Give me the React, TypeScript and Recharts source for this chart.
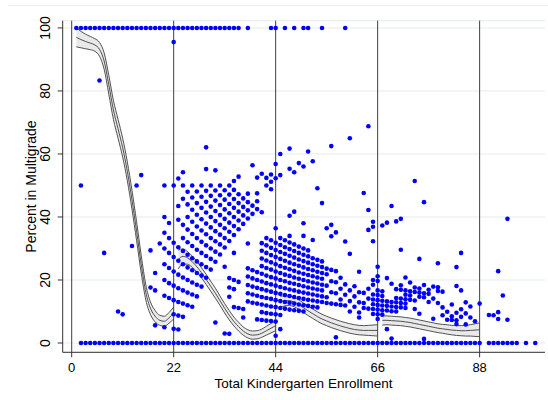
import React from 'react';
import { ComposedChart, Scatter, Line, Area, XAxis, YAxis, CartesianGrid, ReferenceLine } from 'recharts';

const xTicks = [0, 22, 44, 66, 88];
const yTicks = [0, 20, 40, 60, 80, 100];
const cutoffs = [0, 22, 44, 66, 88];

// enrollments with 0% multigrade
const zeroRowX = [2,3,4,5,6,7,8,9,10,11,12,13,14,15,16,17,18,19,20,21,22,23,24,25,26,27,28,29,30,31,32,33,34,35,36,37,38,39,40,41,42,43,44,45,46,47,48,49,50,51,52,53,54,55,56,57,58,59,60,61,62,63,64,65,66,67,68,69,70,71,72,73,74,75,76,77,78,79,80,81,82,83,84,85,86,87,88,90,91,92,93,94,95,96,98,100];
// enrollments with 100% multigrade
const fullRowX = [1,2,3,4,5,6,7,8,9,10,11,12,13,14,15,16,17,18,19,20,21,22,23,24,25,26,27,28,29,30,31,32,33,34,35,36,38,43,44,46,48,50,51,54,59];

const seg1Points: [number, number[]][] = [
  [2, [50]], [6, [83.3]], [7, [28.6]], [10, [10]], [11, [9.1]], [13, [30.8]], [14, [50]], [15, [53.3]],
  [17, [29.4, 17.6]], [18, [22.2, 16.7, 5.6]], [19, [31.6]],
  [20, [50, 40, 35, 30, 25, 20, 15, 5]],
  [21, [38.1, 33.3, 28.6, 23.8, 19, 14.3]],
  [22, [95.5, 50, 31.8, 27.3, 22.7, 18.2, 13.6, 9.1, 4.5]],
];

const seg2Points: [number, number[]][] = [
  [23, [52.2, 43.5, 39.1, 30.4, 26.1, 21.7, 17.4, 13, 8.7, 4.3]],
  [24, [54.2, 50, 45.8, 37.5, 33.3, 29.2, 25, 20.8, 16.7, 12.5, 8.3]],
  [25, [48, 44, 40, 36, 32, 28, 24, 20, 16, 12]],
  [26, [50, 46.2, 42.3, 38.5, 34.6, 30.8, 26.9, 23.1, 19.2, 15.4, 11.5]],
  [27, [48.1, 44.4, 40.7, 37, 33.3, 29.6, 25.9, 22.2, 18.5, 14.8]],
  [28, [50, 46.4, 42.9, 39.3, 35.7, 32.1, 28.6, 25, 21.4, 17.9]],
  [29, [62.1, 55.2, 48.3, 44.8, 41.4, 37.9, 34.5, 31, 27.6, 24.1, 20.7]],
  [30, [50, 46.7, 43.3, 40, 36.7, 33.3, 30, 26.7, 23.3]],
  [31, [54.8, 48.4, 45.2, 41.9, 38.7, 35.5, 32.3, 29, 25.8, 6.5]],
  [32, [50, 46.9, 43.8, 40.6, 37.5, 34.4, 31.3, 28.1]],
  [33, [48.5, 45.5, 42.4, 39.4, 36.4, 33.3, 30.3, 24.2, 3]],
  [34, [50, 47.1, 44.1, 41.2, 38.2, 35.3, 32.4, 20.6, 17.6, 14.7, 2.9]],
  [35, [51.4, 48.6, 45.7, 42.9, 40, 37.1, 34.3, 28.6, 20, 17.1, 11.4]],
  [36, [52.8, 47.2, 44.4, 41.7, 38.9, 36.1, 19.4, 11.1]],
  [37, [45.9, 43.2, 40.5, 37.8, 10.8, 8.1]],
  [38, [47.4, 44.7, 42.1, 39.5, 31.6, 23.7, 21.1, 18.4, 15.8, 13.2]],
  [39, [56.4, 43.6, 41, 23.1, 20.5, 17.9, 15.4, 12.8]],
  [40, [52.5, 47.5, 45, 42.5, 22.5, 20, 17.5, 15, 12.5, 7.5]],
  [41, [53.7, 41.5, 31.7, 29.3, 26.8, 24.4, 22, 19.5, 17.1, 14.6, 12.2, 9.8, 7.3]],
  [42, [52.4, 50, 33.3, 31, 28.6, 26.2, 23.8, 21.4, 19, 16.7, 14.3, 11.9, 9.5, 7.1]],
  [43, [53.5, 51.2, 48.8, 32.6, 30.2, 27.9, 25.6, 23.3, 20.9, 18.6, 16.3, 14, 11.6, 9.3, 7]],
  [44, [56.8, 52.3, 36.4, 31.8, 29.5, 27.3, 25, 22.7, 20.5, 18.2, 15.9, 13.6, 11.4, 9.1, 6.8, 2.3]],
];

const seg3Points: [number, number[]][] = [
  [45, [60, 53.3, 33.3, 31.1, 28.9, 26.7, 24.4, 22.2, 20, 17.8, 15.6, 13.3, 11.1, 8.9, 4.4]],
  [46, [32.6, 30.4, 28.3, 26.1, 23.9, 21.7, 19.6, 17.4, 15.2, 13, 10.9]],
  [47, [61.7, 55.3, 40.4, 34, 31.9, 29.8, 27.7, 25.5, 23.4, 21.3, 19.1, 17, 14.9, 12.8, 10.6]],
  [48, [54.2, 41.7, 31.3, 29.2, 27.1, 25, 22.9, 20.8, 18.8, 16.7, 14.6, 12.5, 10.4]],
  [49, [57.1, 30.6, 28.6, 26.5, 24.5, 22.4, 20.4, 18.4, 16.3, 14.3, 12.2, 10.2]],
  [50, [56, 38, 34, 30, 28, 26, 24, 22, 20, 18, 16, 14, 12, 10]],
  [51, [60.8, 29.4, 27.5, 25.5, 23.5, 21.6, 19.6, 17.6, 15.7, 13.7, 11.8]],
  [52, [57.7, 32.7, 26.9, 25, 23.1, 21.2, 19.2, 17.3, 15.4, 13.5, 11.5]],
  [53, [49.1, 26.4, 24.5, 22.6, 20.8, 18.9, 17, 15.1, 13.2, 11.3]],
  [54, [44.4, 25.9, 24.1, 22.2, 20.4, 18.5, 16.7, 14.8, 13]],
  [55, [36.4, 23.6, 21.8, 18.2, 14.5, 12.7]],
  [56, [62.5, 37.5, 33.9, 23.2, 19.6, 16.1, 12.5]],
  [57, [35.1, 22.8, 19.3, 15.8, 12.3, 1.8]],
  [58, [20.7, 17.2, 13.8, 12.1]],
  [59, [32.2, 18.6, 15.3, 11.9]],
  [60, [65, 28.3, 16.7, 13.3, 10]],
  [61, [18, 14.8, 11.5]],
  [62, [22.6, 16.1, 12.9, 9.7, 8.1]],
  [63, [47.6, 15.9, 12.7, 11.1]],
  [64, [68.8, 42.2, 35.9, 17.2, 14.1, 10.9]],
  [65, [38.5, 36.9, 32.3, 20, 18.5, 15.4, 13.8, 12.3, 10.8, 9.2]],
  [66, [24.2, 21.2, 19.7, 16.7, 15.2, 13.6, 12.1, 10.6, 9.1, 7.6]],
];

const seg4Points: [number, number[]][] = [
  [67, [37.3, 16.4, 14.9, 13.4, 11.9, 10.4, 9]],
  [68, [38.2, 20.6, 13.2, 11.8, 10.3, 4.4]],
  [69, [43.5, 18.8, 13, 11.6, 10.1, 1.4]],
  [70, [38.6, 17.1, 14.3, 12.9, 11.4, 10]],
  [71, [39.4, 29.6, 18.3, 16.9, 14.1, 12.7, 11.3]],
  [72, [20.8, 16.7, 15.3, 13.9, 12.5, 11.1]],
  [73, [19.2, 16.4, 15.1, 13.7]],
  [74, [51.4, 17.6, 16.2, 13.5, 10.8]],
  [75, [26.7, 17.3, 16, 14.7, 9.3]],
  [76, [44.7, 18.4, 15.8, 14.5, 1.3]],
  [77, [16.9, 15.6, 13]],
  [78, [17.9, 14.1, 7.7]],
  [79, [25.3, 17.7, 16.5, 12.7]],
  [80, [16.3, 11.3, 8.8]],
  [81, [9.9, 7.4]],
  [82, [12.2, 8.5, 7.3]],
  [83, [24.1, 18.1, 9.6, 7.2, 6]],
  [84, [28.6, 16.7, 10.7, 8.3]],
  [85, [12.9, 9.4, 5.9]],
  [86, [11.6, 8.1]],
  [87, [6.9]],
  [88, [12.5]],
];

const tailPoints: [number, number[]][] = [
  [90, [8.9]], [91, [8.8]], [92, [22.8, 9.8, 7.6]], [93, [15.1]], [94, [39.4, 7.4]],
];

// local polynomial fits with confidence bands, by segment
const seg1X = [1,2,3,4,5,6,7,8,9,10,11,12,13,14,15,16,17,18,19,20,21,22];
const seg1Fit = [97, 96.3, 95.7, 95.2, 94.6, 93.2, 89.5, 82, 74, 68, 62, 54.5, 45.5, 35.5, 25, 16, 11, 8.5, 7.2, 6.9, 8, 9.5];
const seg1Half = [3, 2.6, 2.3, 2.1, 2, 2.2, 2.6, 3, 3, 3, 3, 3, 3, 3, 2.8, 2.4, 2, 1.8, 1.6, 1.6, 1.7, 1.9];

const seg2X = [23,24,25,26,27,28,29,30,31,32,33,34,35,36,37,38,39,40,41,42,43,44];
const seg2Fit = [26.5, 27.5, 27, 25.8, 24.2, 22.3, 20.2, 18, 15.8, 13.4, 11, 8.8, 6.8, 5.2, 3.8, 2.9, 2.5, 2.6, 3.1, 3.9, 4.7, 5.5];
const seg2Half = [3, 2.4, 2, 1.8, 1.7, 1.6, 1.6, 1.6, 1.6, 1.5, 1.5, 1.5, 1.4, 1.4, 1.3, 1.3, 1.3, 1.3, 1.3, 1.4, 1.5, 1.6];

const seg3X = [45,46,47,48,49,50,51,52,53,54,55,56,57,58,59,60,61,62,63,64,65,66];
const seg3Fit = [13, 13.4, 13.4, 13, 12.2, 11.2, 10.2, 9.3, 8.4, 7.6, 7, 6.4, 5.9, 5.4, 5, 4.6, 4.3, 4.1, 4, 4, 4, 4];
const seg3Half = [1.8, 1.6, 1.5, 1.5, 1.5, 1.5, 1.5, 1.5, 1.5, 1.5, 1.5, 1.5, 1.5, 1.5, 1.5, 1.5, 1.5, 1.5, 1.5, 1.6, 1.7, 1.8];

const seg4X = [67,68,69,70,71,72,73,74,75,76,77,78,79,80,81,82,83,84,85,86,87,88];
const seg4Fit = [7.2, 7.2, 7.1, 7, 6.9, 6.7, 6.5, 6.2, 5.9, 5.6, 5.3, 5, 4.7, 4.5, 4.3, 4.1, 4, 3.9, 3.9, 4, 4.1, 4.2];
const seg4Half = [1.5, 1.4, 1.4, 1.4, 1.4, 1.4, 1.4, 1.4, 1.4, 1.4, 1.4, 1.4, 1.4, 1.4, 1.5, 1.5, 1.6, 1.6, 1.7, 1.8, 2, 2.2];

const segments = [
  { xs: seg1X, fit: seg1Fit, half: seg1Half },
  { xs: seg2X, fit: seg2Fit, half: seg2Half },
  { xs: seg3X, fit: seg3Fit, half: seg3Half },
  { xs: seg4X, fit: seg4Fit, half: seg4Half },
];

const curveRows: any[] = [];
segments.forEach((s, si) => {
  s.xs.forEach((x, i) => {
    const row: any = { x };
    row['c' + si] = s.fit[i];
    row['lo' + si] = s.fit[i] - s.half[i];
    row['hi' + si] = s.fit[i] + s.half[i];
    row['r' + si] = [s.fit[i] - s.half[i], s.fit[i] + s.half[i]];
    curveRows.push(row);
  });
});

const scatterData: { x: number; y: number }[] = [];
zeroRowX.forEach((x) => scatterData.push({ x, y: 0 }));
fullRowX.forEach((x) => scatterData.push({ x, y: 100 }));
[seg1Points, seg2Points, seg3Points, seg4Points, tailPoints].forEach((cols) =>
  cols.forEach(([x, ys]) => ys.forEach((y) => scatterData.push({ x, y })))
);

const FONT = 'Liberation Sans, Arial, sans-serif';
const BLUE = '#0000ff';
const LINE = '#3f3f3f';

const Dot = (props: any) => {
  const { cx, cy } = props;
  if (cx == null || cy == null) return null;
  return <circle cx={cx} cy={cy} r={2.3} fill={BLUE} />;
};

const YTick = (props: any) => {
  const { y, payload } = props;
  return (
    <text x={50} y={y} transform={`rotate(-90 50 ${y})`} textAnchor="middle" fontSize={14} fill="#000" fontFamily={FONT}>
      {payload.value}
    </text>
  );
};

const XTick = (props: any) => {
  const { x, payload } = props;
  return (
    <text x={x} y={372} textAnchor="middle" fontSize={13} fill="#000" fontFamily={FONT}>
      {payload.value}
    </text>
  );
};

export default function App() {
  return (
    <div style={{ position: 'absolute', left: 0, top: 0, width: 548, height: 400, background: '#fff' }}>
      <ComposedChart
        width={548}
        height={400}
        data={curveRows}
        margin={{ top: 20.7, right: 3, bottom: 0, left: 0 }}
      >
        <CartesianGrid horizontal vertical={false} stroke="#e3ebed" strokeWidth={1} />
        <XAxis
          type="number"
          dataKey="x"
          domain={[-1.94, 102.1]}
          allowDataOverflow
          ticks={xTicks}
          height={47.7}
          stroke="#333"
          tickSize={5}
          tickLine={{ stroke: '#333' }}
          axisLine={{ stroke: '#333' }}
          tick={<XTick />}
        />
        <YAxis
          type="number"
          domain={[-2.95, 102.3]}
          allowDataOverflow
          ticks={yTicks}
          width={62.7}
          stroke="#333"
          tickSize={5}
          tickLine={{ stroke: '#333' }}
          axisLine={{ stroke: '#333' }}
          tick={<YTick />}
        />
        {cutoffs.map((c) => (
          <ReferenceLine key={c} x={c} stroke={LINE} strokeWidth={1} />
        ))}
        <Scatter data={scatterData} dataKey="y" shape={<Dot />} isAnimationActive={false} />
        {[0, 1, 2, 3].map((si) => (
          <Area
            key={'a' + si}
            dataKey={'r' + si}
            type="monotone"
            fill="#e9e9e9"
            fillOpacity={1}
            stroke="none"
            isAnimationActive={false}
            connectNulls={false}
            dot={false}
            activeDot={false}
          />
        ))}
        {[0, 1, 2, 3].map((si) =>
          ['lo', 'hi', 'c'].map((k) => (
            <Line
              key={k + si}
              dataKey={k + si}
              type="monotone"
              stroke={LINE}
              strokeWidth={0.9}
              dot={false}
              activeDot={false}
              connectNulls={false}
              isAnimationActive={false}
            />
          ))
        )}
      </ComposedChart>
      <svg width={548} height={400} style={{ position: 'absolute', left: 0, top: 0, pointerEvents: 'none' }}>
        <line x1={8} x2={548} y1={5.5} y2={5.5} stroke="#e8eef0" strokeWidth={1} />
        <text x={303.5} y={387.5} textAnchor="middle" fontSize={13.5} fontFamily={FONT} fill="#000">
          Total Kindergarten Enrollment
        </text>
        <text x={35.5} y={186.5} transform="rotate(-90 35.5 186.5)" textAnchor="middle" fontSize={14} fontFamily={FONT} fill="#000">
          Percent in Multigrade
        </text>
      </svg>
    </div>
  );
}
